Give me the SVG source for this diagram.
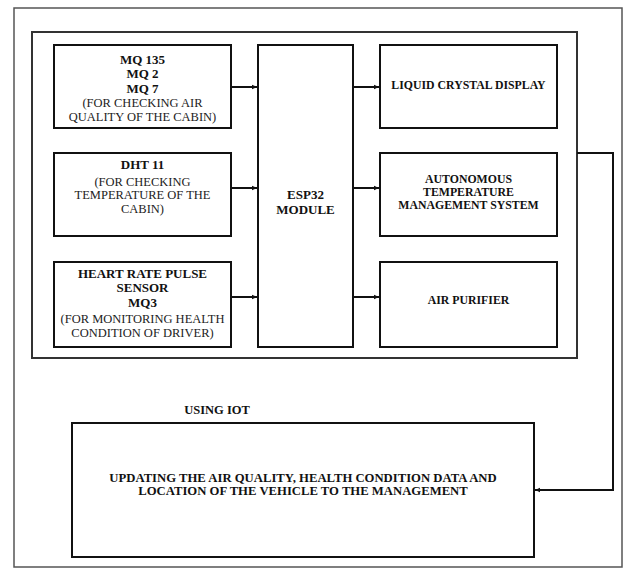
<svg xmlns="http://www.w3.org/2000/svg" width="623" height="571" viewBox="0 0 623 571">
<defs>
<marker id="ah" markerWidth="6" markerHeight="6" refX="5" refY="3" orient="auto" markerUnits="userSpaceOnUse">
<path d="M0,0.8 L5,3 L0,5.2 Z" fill="#111"/>
</marker>
<style>
.box{fill:#fff;stroke:#111;stroke-width:2}
.frame{fill:none;stroke:#333;stroke-width:2}
.outer{fill:none;stroke:#555;stroke-width:1.5}
.con{fill:none;stroke:#111;stroke-width:2}
text{fill:#111;text-anchor:middle}
.b{font-weight:bold}
.t{font-weight:bold;font-size:13px}
.n{font-size:12.5px;fill:#222}
.r{font-weight:bold;font-size:11.8px}
</style>
</defs>
<rect width="623" height="571" fill="#fff"/>
<rect id="outer-frame" class="outer" x="14" y="8" width="608" height="559"/>
<rect id="inner-frame" class="frame" x="32" y="32" width="545" height="326"/>

<g font-family="'Liberation Serif', 'Times New Roman', serif">
<g id="mq-sensors">
<rect class="box" x="54" y="45" width="177" height="83"/>
<text class="t" x="142.5" y="64">MQ 135</text>
<text class="t" x="142.5" y="78">MQ 2</text>
<text class="t" x="142.5" y="93">MQ 7</text>
<text class="n" x="142.5" y="107">(FOR CHECKING AIR</text>
<text class="n" x="142.5" y="121">QUALITY OF THE CABIN)</text>
</g>

<g id="dht11">
<rect class="box" x="54" y="153" width="177" height="83"/>
<text class="t" x="142.5" y="169">DHT 11</text>
<text class="n" x="142.5" y="186">(FOR CHECKING</text>
<text class="n" x="142.5" y="199">TEMPERATURE OF THE</text>
<text class="n" x="142.5" y="213">CABIN)</text>
</g>

<g id="heart-rate">
<rect class="box" x="54" y="262" width="177" height="85"/>
<text class="t" x="142.5" y="278">HEART RATE PULSE</text>
<text class="t" x="142.5" y="292">SENSOR</text>
<text class="t" x="142.5" y="307">MQ3</text>
<text class="n" x="142.5" y="323">(FOR MONITORING HEALTH</text>
<text class="n" x="142.5" y="337">CONDITION OF DRIVER)</text>
</g>

<g id="esp32">
<rect class="box" x="258" y="45" width="95" height="302"/>
<text class="t" x="305.5" y="199">ESP32</text>
<text class="t" x="305.5" y="214">MODULE</text>
</g>

<g id="lcd">
<rect class="box" x="380" y="45" width="177" height="83"/>
<text class="r" x="468.5" y="89">LIQUID CRYSTAL DISPLAY</text>
</g>

<g id="atms">
<rect class="box" x="380" y="153" width="177" height="83"/>
<text class="r" x="468.5" y="183">AUTONOMOUS</text>
<text class="r" x="468.5" y="196">TEMPERATURE</text>
<text class="r" x="468.5" y="209">MANAGEMENT SYSTEM</text>
</g>

<g id="air-purifier">
<rect class="box" x="380" y="262" width="177" height="85"/>
<text class="r" x="468.5" y="304">AIR PURIFIER</text>
</g>

<g id="using-iot-label">
<text class="b" x="217" y="414" font-size="12.5">USING IOT</text>
</g>

<g id="management">
<rect class="box" x="72" y="423" width="462" height="134"/>
<text class="b" x="303" y="482" font-size="12.7">UPDATING THE AIR QUALITY, HEALTH CONDITION DATA AND</text>
<text class="b" x="303" y="495" font-size="12.7">LOCATION OF THE VEHICLE TO THE MANAGEMENT</text>
</g>
</g>

<g id="connectors">
<line class="con" x1="231" y1="87" x2="257" y2="87" marker-end="url(#ah)"/>
<line class="con" x1="231" y1="188" x2="257" y2="188" marker-end="url(#ah)"/>
<line class="con" x1="231" y1="297" x2="257" y2="297" marker-end="url(#ah)"/>
<line class="con" x1="353" y1="87" x2="379" y2="87" marker-end="url(#ah)"/>
<line class="con" x1="353" y1="188" x2="379" y2="188" marker-end="url(#ah)"/>
<line class="con" x1="353" y1="297" x2="379" y2="297" marker-end="url(#ah)"/>
<polyline class="con" points="577,153 613,153 613,490 535,490" marker-end="url(#ah)"/>
</g>
</svg>
